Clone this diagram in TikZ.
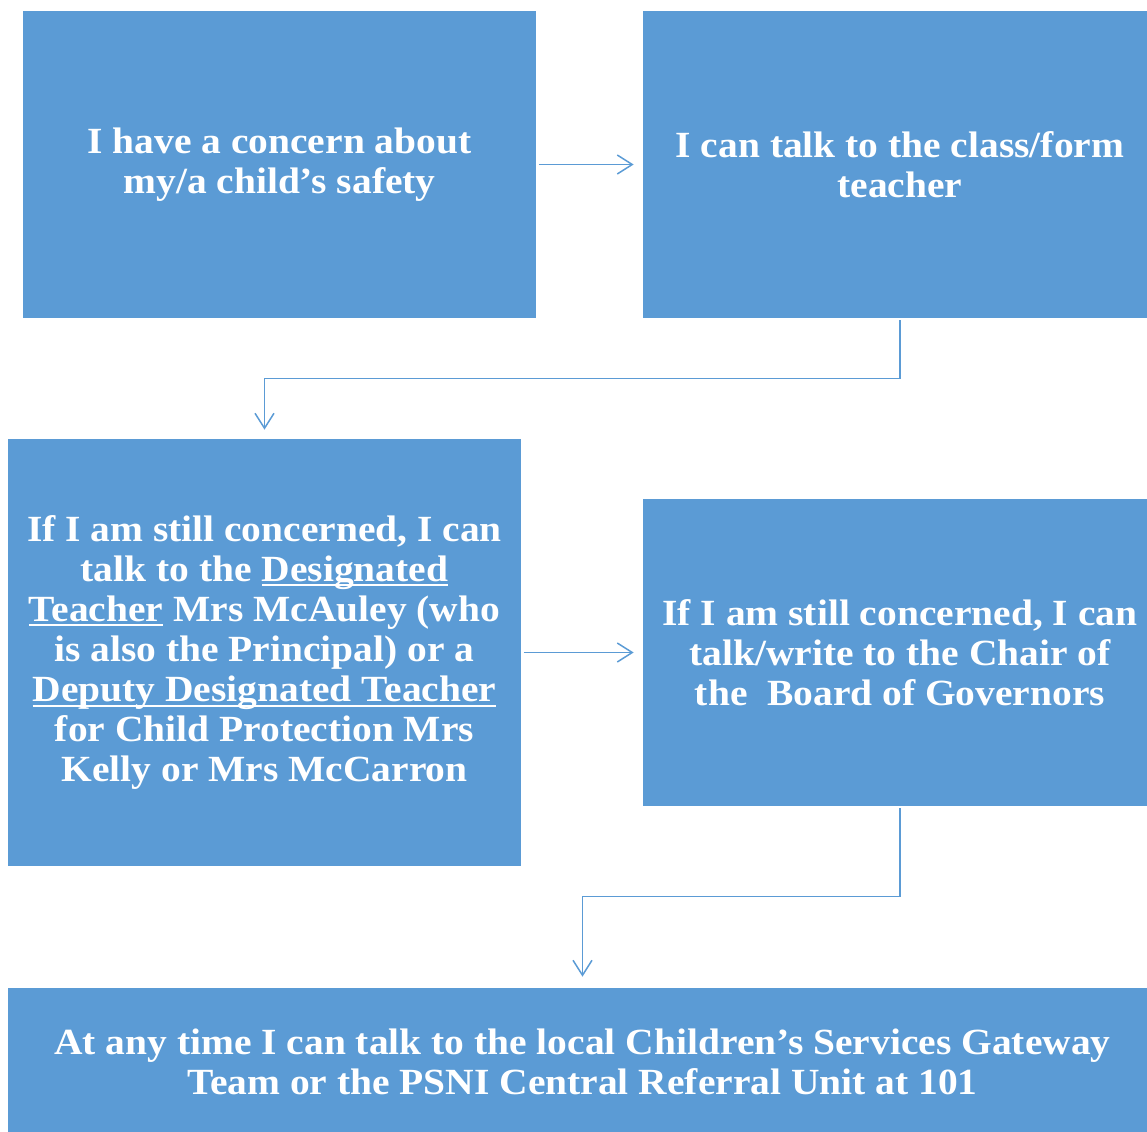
\documentclass[tikz,border=0pt]{standalone}
\usepackage{fontspec}
\setmainfont[FakeStretch=1.07]{Liberation Serif}
\usetikzlibrary{arrows.meta, positioning}
\definecolor{boxblue}{HTML}{5B9BD5}
% underline with a heavier, lower rule
\newcommand{\ulined}[1]{\setbox0\hbox{#1}\rlap{\rule[-2.8pt]{\wd0}{1.1pt}}\box0\relax}

\begin{document}
\begin{tikzpicture}[
    block/.style={
        rectangle,
        fill=boxblue,
        text=white,
        align=center,
        inner sep=0pt,
        font=\fontsize{21}{22.8}\selectfont\bfseries
    },
    line/.style={
        draw=boxblue,
        line width=0.85pt,
        -{Straight Barb[length=0.3cm, width=0.38cm]},
        shorten <=0.05cm,
        shorten >=0.18cm
    }
]
    \useasboundingbox (0,0) rectangle (22.94,-22.62);

    % --- Nodes ---

    % Starting concern
    \node [block, minimum width=10.26cm, minimum height=6.14cm] (concern) at (5.59,-3.29)
        {I have a concern about\\my/a child’s safety};

    % Class teacher
    \node [block, minimum width=10.28cm, minimum height=6.14cm] (teacher) at (18.0,-3.29)
        {I can talk to the class/form\\teacher};

    % Designated teacher
    \node [block, minimum width=10.26cm, minimum height=8.54cm] (designated) at (5.29,-13.05)
        {If I am still concerned, I can\\talk to the \ulined{Designated}\\\ulined{Teacher} Mrs McAuley (who\\is also the Principal) or a\\\ulined{Deputy Designated Teacher}\\for Child Protection Mrs\\Kelly or Mrs McCarron};

    % Board of Governors
    \node [block, minimum width=10.28cm, minimum height=6.14cm] (governors) at (18.0,-13.05)
        {If I am still concerned, I can\\talk/write to the Chair of\\the\ \ Board of Governors};

    % Gateway team
    \node [block, minimum width=22.98cm, minimum height=2.96cm] (gateway) at (11.65,-21.24)
        {At any time I can talk to the local Children’s Services Gateway\\Team or the PSNI Central Referral Unit at 101};

    % --- Connections ---
    \draw [line] (concern) -- (teacher);
    \draw [line, shorten <=0.04cm] (teacher.south) -- ++(0,-1.2) -| (designated.north);
    \draw [line] (designated.east |- governors) -- (governors);
    \draw [line, shorten <=0.04cm, shorten >=0.22cm] (governors.south) -- ++(0,-1.8) -| (gateway.north);

\end{tikzpicture}
\end{document}
